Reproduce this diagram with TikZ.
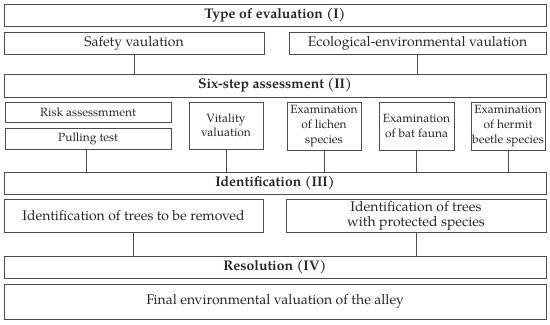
\documentclass[tikz,border=0pt]{standalone}
\usepackage{fontspec}
\setmainfont{TeX Gyre Pagella}
\begin{document}
\begin{tikzpicture}[x=1bp,y=-1bp,
  lc/.style={draw=black!70,line width=0.9bp},
  box/.style={lc,inner sep=0pt,align=center,text=black!85},
  title/.style={box,font=\fontsize{14}{15}\selectfont\bfseries},
  big/.style={box,font=\fontsize{14}{15}\selectfont},
  small/.style={box,font=\fontsize{12}{14.6}\selectfont},
  link/.style={lc}]
\useasboundingbox (0,0) rectangle (550,324);
\node[title,minimum width=542bp,minimum height=22bp] (t1) at (275,15) {Type of evaluation (I)};
\node[big,minimum width=260bp,minimum height=22bp] (sv) at (134,43) {Safety vaulation};
\node[big,minimum width=257bp,minimum height=22bp] (ev) at (417.5,43) {Ecological-environmental vaulation};
\node[title,minimum width=542bp,minimum height=23bp] (t2) at (275,85.5) {Six-step assessment (II)};
\node[small,minimum width=166bp,minimum height=20bp] (ra) at (88,112) {Risk assessmment};
\node[small,minimum width=166bp,minimum height=21bp] (pt) at (88,138.5) {Pulling test};
\node[small,minimum width=74bp,minimum height=47bp] (vv) at (226,125.5) {Vitality\\valuation};
\node[small,minimum width=74bp,minimum height=48bp] (lc) at (324,126) {Examination\\of lichen\\species};
\node[small,minimum width=75bp,minimum height=48bp] (bf) at (416.5,126) {Examination\\of bat fauna};
\node[small,minimum width=74bp,minimum height=48bp] (hb) at (508,126) {Examination\\of hermit\\beetle species};
\node[title,minimum width=542bp,minimum height=22bp] (t3) at (275,183) {Identification (III)};
\node[big,minimum width=259bp,minimum height=33bp] (rm) at (133.5,215.5) {Identification of trees to be removed};
\node[big,minimum width=260bp,minimum height=33bp] (pr) at (416,215.5) {Identification of trees\\with protected species};
\node[title,minimum width=542bp,minimum height=22bp] (t4) at (275,267) {Resolution (IV)};
\node[big,minimum width=542bp,minimum height=35bp] (fi) at (275,301.5) {Final environmental valuation of the alley};
\draw[link] (sv.south) -- (sv.south |- t2.north);
\draw[link] (ev.south) -- (ev.south |- t2.north);
\draw[link] ([xshift=-2bp]pt.south) -- ([xshift=-2bp]pt.south |- t3.north);
\draw[link] (vv.south) -- (vv.south |- t3.north);
\draw[link] (lc.south) -- (lc.south |- t3.north);
\draw[link] (bf.south) -- (bf.south |- t3.north);
\draw[link] (hb.south) -- (hb.south |- t3.north);
\draw[link] (rm.south) -- (rm.south |- t4.north);
\draw[link] (pr.south) -- (pr.south |- t4.north);
\end{tikzpicture}
\end{document}
